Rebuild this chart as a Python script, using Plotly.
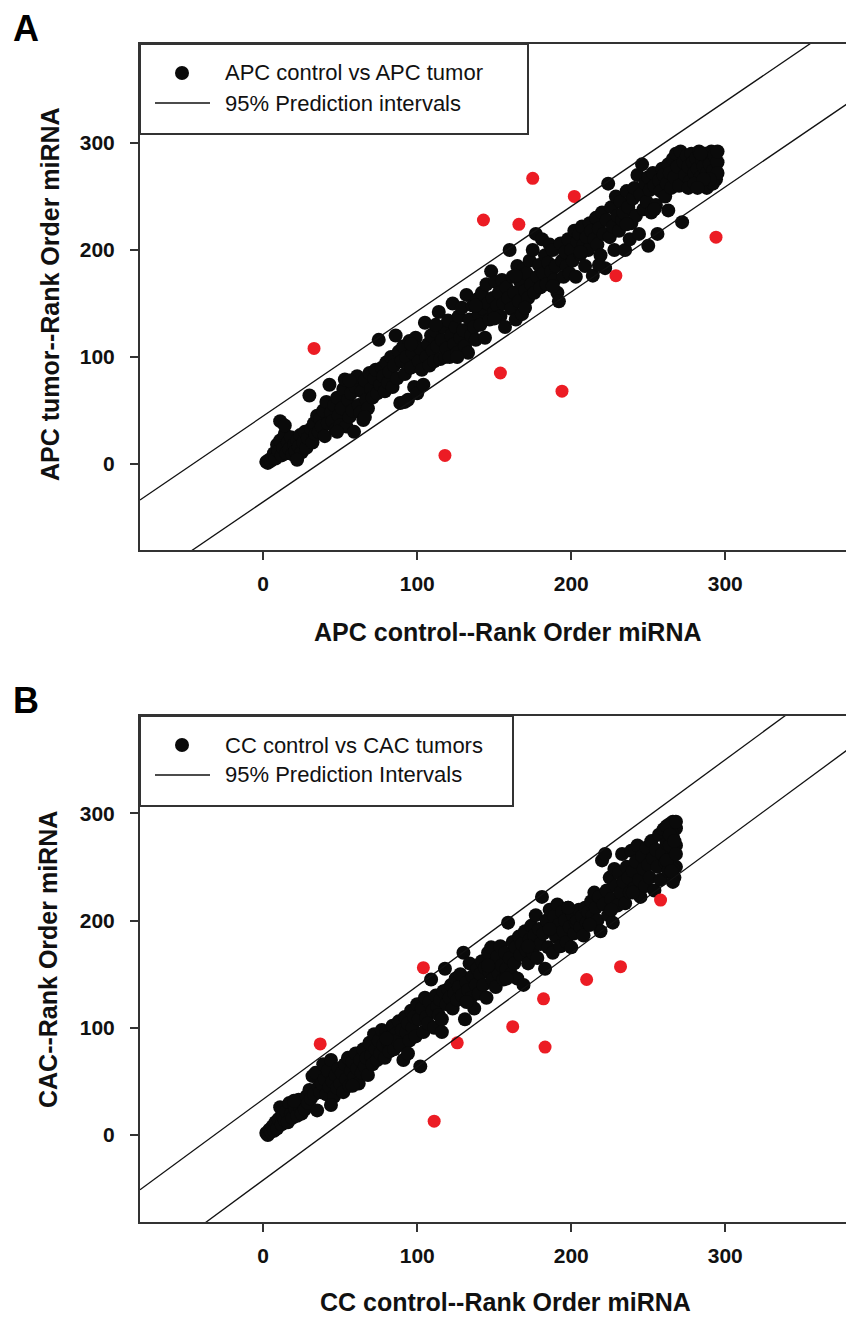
import plotly.graph_objects as go

# ---------------- Panel A data ----------------
a_black_x = [2,3,4,5,6,7,8,9,10,11,11,12,13,14,15,16,17,18,19,20,21,22,23,24,25,26,27,28,29,30,31,32,33,34,35,
             36,37,38,39,40,41,42,43,44,45,46,47,48,49,50,51,52,53,54,55,56,57,58,59,60,61,62,63,64,65,66,67,68,69,70,
             71,72,73,74,75,76,77,78,79,80,81,82,83,84,85,86,87,88,89,90,91,92,93,94,95,96,97,98,99,100,101,102,103,104,105,
             106,107,108,109,110,111,112,113,114,115,116,117,118,119,120,121,122,123,124,125,126,127,128,129,130,131,132,133,134,135,136,137,138,139,140,
             141,142,143,144,145,146,147,148,149,150,151,152,153,154,155,156,157,158,159,160,161,162,163,164,165,166,167,168,169,170,171,172,173,174,175,
             176,177,178,179,180,181,182,183,184,185,186,187,188,189,190,191,192,193,194,195,196,197,198,199,200,201,202,203,204,205,206,207,208,209,210,
             211,212,213,214,215,216,217,218,219,220,221,222,223,224,225,226,227,228,229,230,231,232,233,234,235,236,237,238,239,240,241,242,243,244,245,
             246,247,248,249,250,251,252,253,254,255,256,257,258,259,260,261,262,263,264,265,266,267,268,269,270,271,272,273,274,275,
             276,277,278,279,280,281,282,283,284,285,286,287,288,289,290,291,292,293,294,295,276,280,284,288,292,295,295,290,286,282,263,
             14,22,48,56,66,92,96,112,126,138,150,164,170,188,206,218,236,250,254]
a_black_y = [2,1,4,3,6,10,5,18,12,40,22,8,15,28,10,20,14,25,9,18,12,22,16,27,11,20,30,15,24,64,33,20,38,28,45,
             30,42,35,50,26,58,38,74,48,40,55,32,62,45,36,52,70,79,35,60,44,66,50,30,72,82,55,48,68,41,78,60,52,85,70,
             62,80,88,66,116,74,90,82,68,95,76,86,100,72,92,120,80,105,57,96,110,84,100,60,115,90,104,72,118,66,96,108,88,74,132,
             100,112,92,120,106,96,124,110,142,98,116,128,100,108,134,100,120,150,112,128,104,138,118,146,125,110,158,104,135,120,148,128,116,154,140,
             130,160,145,118,168,150,135,180,155,142,170,148,160,138,172,150,128,165,155,200,145,175,160,135,185,152,170,140,182,162,178,155,190,168,200,
             160,215,175,186,165,210,178,195,168,188,205,180,200,172,185,160,152,206,190,175,198,185,210,178,200,190,218,175,208,215,196,222,205,185,212,
             200,225,218,176,210,230,205,220,195,235,215,183,228,262,212,240,222,200,250,232,218,245,228,235,200,255,240,210,225,248,258,232,270,215,252,
             280,238,262,245,268,256,235,272,260,242,215,265,255,276,270,250,262,280,272,258,285,268,290,278,260,292,226,282,270,288,
             278,264,290,282,272,286,276,292,268,284,278,290,272,286,280,292,274,288,266,282,258,262,290,258,262,292,272,266,266,258,237,
             36,4,30,78,44,58,112,130,100,148,136,176,146,166,198,186,224,204,238]
a_red_x = [33, 118, 143, 154, 166, 175, 194, 202, 229, 294]
a_red_y = [108, 8, 228, 85, 224, 267, 68, 250, 176, 212]

# ---------------- Panel B data ----------------
b_black_x = [2,3,4,5,6,7,8,9,10,11,12,13,14,15,16,17,18,19,20,21,22,23,24,25,26,27,28,29,30,31,32,33,34,35,36,
             37,38,39,40,41,42,43,44,45,46,47,48,49,50,51,52,53,54,55,56,57,58,59,60,61,62,63,64,65,66,67,68,69,70,
             71,72,73,74,75,76,77,78,79,80,81,82,83,84,85,86,87,88,89,90,91,92,93,94,95,96,97,98,99,100,101,102,103,104,105,
             106,107,108,109,110,111,112,113,114,115,116,117,118,119,120,121,122,123,124,125,126,127,128,129,130,131,132,133,134,135,136,137,138,139,140,
             141,142,143,144,145,146,147,148,149,150,151,152,153,154,155,156,157,158,159,160,161,162,163,164,165,166,167,168,169,170,171,172,173,174,175,
             176,177,178,179,180,181,182,183,184,185,186,187,188,189,190,191,192,193,194,195,196,197,198,199,200,201,202,203,204,205,206,207,208,209,210,
             211,212,213,214,215,216,217,218,219,220,221,222,223,224,225,226,227,228,229,230,231,232,233,234,235,236,237,238,239,240,241,242,243,244,245,
             246,247,248,249,250,251,252,253,254,255,256,257,258,259,260,261,262,263,264,265,266,267,268,266,268,267,265,268,266,264,262,268,266,264,262,268,267,265,
             20,44,58,80,94,116,132,146,158,172,186,198,212,226,240]
b_black_y = [2,0,5,3,8,4,12,6,15,26,10,18,14,22,12,30,20,16,28,24,18,33,26,20,30,24,36,30,42,34,55,38,58,23,45,
             40,48,66,52,38,60,45,70,50,36,56,44,62,48,58,40,66,52,72,46,60,68,54,76,62,48,70,58,80,64,72,56,86,74,
             66,94,80,70,88,76,98,84,72,96,86,78,92,102,80,94,88,106,84,98,70,110,96,104,88,116,100,110,92,122,108,64,118,96,128,
             110,104,124,145,116,100,130,120,112,126,108,134,155,122,136,128,140,118,132,146,126,138,150,130,170,108,142,135,160,128,148,118,140,155,132,
             150,162,140,156,128,170,152,175,145,160,138,166,150,176,158,145,170,155,198,165,150,180,160,175,146,185,168,178,140,190,172,160,182,195,170,
             186,205,165,192,178,222,188,155,200,175,210,192,170,204,185,215,196,176,208,190,200,180,212,194,175,205,188,198,200,210,194,204,186,212,198,
             208,196,218,205,226,212,200,222,190,256,215,262,228,205,240,220,198,248,232,214,244,226,262,236,216,250,240,226,265,246,230,255,270,238,222,
             260,248,232,268,252,240,274,258,228,266,250,280,238,262,285,254,272,246,290,260,278,240,286,292,270,262,282,250,236,270,288,292,248,280,256,262,274,246,
             32,28,46,90,76,96,124,158,146,176,192,212,196,210,226]
b_red_x = [37, 104, 111, 126, 162, 182, 183, 210, 232, 258]
b_red_y = [85, 156, 13, 86, 101, 127, 82, 145, 157, 219]

# prediction interval lines (endpoints)
pi_x = [-80, 384]
a_upper_y = [-33.6, 421.1]
a_lower_y = [-113.9, 341.3]
b_upper_y = [-51.0, 438.5]
b_lower_y = [-126.5, 364.0]

tick_vals = [0, 100, 200, 300]
tick_text = ["0", "100", "200", "300"]

# the page places the figure 8px from the top-left corner of the window
OFF = 8
W, H = 854 - OFF, 1317 - OFF
BLACK = "#0a0a0a"
RED = "#ec1c24"
AXC = "#333333"
FONT = "Liberation Sans, Arial, sans-serif"

fig = go.Figure()

def add_panel(xa, ya, bx, by, rx, ry, up, lo):
    fig.add_trace(go.Scatter(x=bx, y=by, mode="markers", xaxis=xa, yaxis=ya,
                             marker=dict(size=14, color=BLACK, line=dict(width=0)),
                             showlegend=False, hoverinfo="skip"))
    fig.add_trace(go.Scatter(x=rx, y=ry, mode="markers", xaxis=xa, yaxis=ya,
                             marker=dict(size=13, color=RED, line=dict(width=0)),
                             showlegend=False, hoverinfo="skip"))
    for yy in (up, lo):
        fig.add_trace(go.Scatter(x=pi_x, y=yy, mode="lines", xaxis=xa, yaxis=ya,
                                 line=dict(color="#111111", width=1.3),
                                 showlegend=False, hoverinfo="skip"))

add_panel("x", "y", a_black_x, a_black_y, a_red_x, a_red_y, a_upper_y, a_lower_y)
add_panel("x2", "y2", b_black_x, b_black_y, b_red_x, b_red_y, b_upper_y, b_lower_y)

def px(x):
    return (x - OFF) / W

def py(y):
    return 1 - (y - OFF) / H

axis_common = dict(
    showgrid=False, zeroline=False, showline=True, linecolor=AXC, linewidth=2,
    ticks="outside", ticklen=8, tickwidth=1.5, tickcolor=AXC,
    tickvals=tick_vals, ticktext=tick_text,
    tickfont=dict(family=FONT, size=21, color="#111111", weight="bold"),
)

fig.update_layout(
    width=W, height=H, autosize=False,
    margin=dict(l=0, r=0, t=0, b=0),
    paper_bgcolor="white", plot_bgcolor="white",
    xaxis=dict(domain=[px(140), 1], anchor="y", range=[-80, 383.6], mirror=True,
               ticklabelstandoff=6, **axis_common),
    yaxis=dict(domain=[py(550), py(44)], anchor="x", range=[-80.4, 392.5],
               ticklabelstandoff=11, **axis_common),
    xaxis2=dict(domain=[px(140), 1], anchor="y2", range=[-80, 383.6], mirror=True,
                ticklabelstandoff=6, **axis_common),
    yaxis2=dict(domain=[py(1222), py(716)], anchor="x2", range=[-81, 390.6],
                ticklabelstandoff=11, **axis_common),
)

shapes = []
annotations = []

def legend(top, bottom, right, label1, label2):
    shapes.append(dict(type="rect", xref="paper", yref="paper",
                       x0=px(140), x1=px(right), y0=py(bottom), y1=py(top),
                       fillcolor="white", line=dict(color=AXC, width=2), layer="above"))
    my = top + 29
    ly = top + 59
    shapes.append(dict(type="circle", xref="paper", yref="paper",
                       xsizemode="pixel", ysizemode="pixel",
                       xanchor=px(182), yanchor=py(my), x0=-7, x1=7, y0=-7, y1=7,
                       fillcolor=BLACK, line=dict(width=0), layer="above"))
    shapes.append(dict(type="line", xref="paper", yref="paper",
                       x0=px(155), x1=px(210), y0=py(ly), y1=py(ly),
                       line=dict(color="#111111", width=1.3), layer="above"))
    for txt, yy in ((label1, my), (label2, ly)):
        annotations.append(dict(text=txt, xref="paper", yref="paper", x=px(223), y=py(yy),
                                xanchor="left", yanchor="middle", showarrow=False,
                                font=dict(family=FONT, size=22, color="#111111")))

legend(44, 134, 528, "APC control vs APC tumor", "95% Prediction intervals")
legend(716, 806, 513, "CC control vs CAC tumors", "95% Prediction Intervals")

def title(txt, x, y, angle=0):
    annotations.append(dict(text=txt, xref="paper", yref="paper", x=px(x), y=py(y),
                            xanchor="center", yanchor="middle", showarrow=False, textangle=angle,
                            font=dict(family=FONT, size=25, color="#111111", weight="bold")))

title("APC control--Rank Order miRNA", 508, 632)
title("APC tumor--Rank Order miRNA", 50, 294, -90)
title("CC control--Rank Order miRNA", 506, 1302)
title("CAC--Rank Order miRNA", 48, 960, -90)

for lab, yy in (("A", 29), ("B", 700)):
    annotations.append(dict(text=lab, xref="paper", yref="paper", x=px(26), y=py(yy),
                            xanchor="center", yanchor="middle", showarrow=False,
                            font=dict(family=FONT, size=36, color="#000000", weight="bold")))

fig.update_layout(shapes=shapes, annotations=annotations)
fig.write_html("out.html")
